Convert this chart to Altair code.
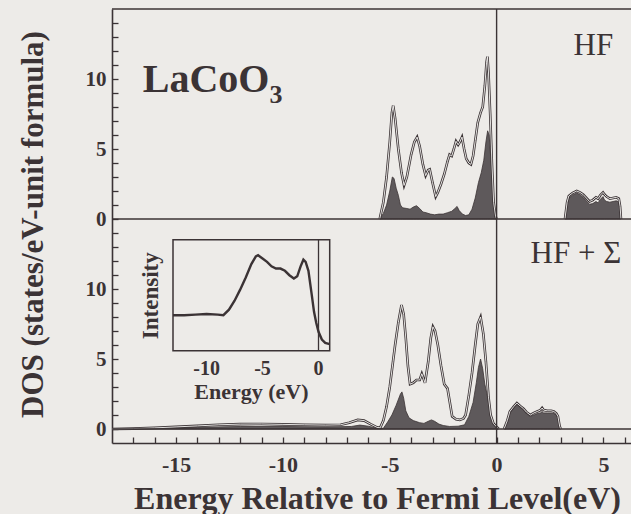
import altair as alt
import pandas as pd

# ---------------- data ----------------
# HF panel, valence band
HF_VAL_TOT_E = [-5.47, -5.3, -5.15, -5.0, -4.9, -4.84, -4.75, -4.6, -4.45, -4.33, -4.2, -4.0, -3.85, -3.72,
                -3.6, -3.45, -3.32, -3.2, -3.13, -3.0, -2.85, -2.75, -2.6, -2.45, -2.3, -2.2, -2.1, -2.0, -1.9,
                -1.8, -1.72, -1.62, -1.52, -1.42, -1.3, -1.2, -1.1, -1.0, -0.88, -0.75, -0.65, -0.55, -0.47,
                -0.43, -0.38, -0.3, -0.22, -0.14, -0.05, 0.0]
HF_VAL_TOT_V = [0.0, 1.2, 3.0, 5.5, 7.6, 8.1, 7.2, 5.0, 3.3, 2.4, 3.0, 4.6, 5.5, 5.85,
                5.2, 3.9, 3.1, 3.5, 3.55, 2.6, 1.6, 1.9, 2.5, 3.2, 4.1, 4.6, 4.5, 5.0, 5.55,
                5.3, 5.5, 5.85, 5.0, 4.3, 4.0, 3.9, 4.5, 5.6, 6.9, 7.6, 8.0, 9.5, 11.2,
                11.6, 10.5, 7.5, 4.0, 1.2, 0.2, 0.0]
HF_VAL_PART_E = [-5.47, -5.3, -5.15, -5.0, -4.88, -4.8, -4.7, -4.6, -4.5, -4.4, -4.2, -4.05, -3.9, -3.75,
                 -3.6, -3.45, -3.3, -3.1, -2.9, -2.7, -2.5, -2.3, -2.1, -1.95, -1.85, -1.75, -1.6, -1.45,
                 -1.3, -1.15, -1.0, -0.85, -0.72, -0.6, -0.5, -0.42, -0.35, -0.28, -0.2, -0.12, -0.05, 0.0]
HF_VAL_PART_V = [0.0, 0.4, 1.0, 2.0, 3.0, 2.9, 2.2, 1.7, 1.0, 0.8, 0.75, 0.7, 0.85, 0.95,
                 0.75, 0.5, 0.45, 0.35, 0.3, 0.35, 0.35, 0.45, 0.55, 0.75, 0.9, 0.6, 0.35, 0.25,
                 0.3, 0.7, 1.5, 2.6, 3.3, 4.2, 5.5, 6.3, 6.0, 4.5, 2.8, 1.0, 0.15, 0.0]
# HF panel, conduction band
HF_CON_E = [3.2, 3.3, 3.38, 3.55, 3.75, 3.9, 4.05, 4.2, 4.35, 4.5, 4.65, 4.75, 4.85, 4.98, 5.05, 5.15,
            5.3, 5.45, 5.6, 5.72, 5.78, 5.82]
HF_CON_TOT_V = [0.0, 1.2, 1.65, 1.85, 2.0, 1.9, 1.75, 1.5, 1.25, 1.35, 1.55, 1.45, 1.7, 1.9, 1.75, 1.6,
                1.45, 1.5, 1.55, 1.45, 0.9, 0.0]
HF_CON_PART_V = [0.0, 1.0, 1.5, 1.7, 1.85, 1.75, 1.55, 1.3, 1.05, 1.1, 1.25, 1.15, 1.4, 1.6, 1.35, 1.25,
                 1.2, 1.25, 1.3, 1.2, 0.7, 0.0]
# HF + Sigma panel, valence band
HFS_VAL_TOT_E = [-18.0, -17.0, -16.0, -15.0, -14.0, -13.0, -12.0, -11.0, -10.0, -9.0, -8.0, -7.3, -6.9,
                 -6.5, -6.2, -5.9, -5.6, -5.45, -5.3, -5.15, -5.0, -4.85, -4.75, -4.6, -4.45, -4.35, -4.25,
                 -4.15, -4.05, -3.9, -3.75, -3.6, -3.5, -3.42, -3.35, -3.2, -3.08, -2.98, -2.88, -2.75,
                 -2.6, -2.45, -2.3, -2.2, -2.08, -1.9, -1.72, -1.55, -1.45, -1.3, -1.15, -1.0, -0.88,
                 -0.75, -0.62, -0.5, -0.38, -0.28, -0.15, 0.0, 0.1]
HFS_VAL_TOT_V = [0.0, 0.03, 0.08, 0.15, 0.22, 0.3, 0.35, 0.36, 0.33, 0.3, 0.28, 0.3, 0.45,
                 0.65, 0.6, 0.35, 0.12, 0.08, 0.6, 1.6, 3.0, 4.8, 6.0, 7.6, 8.85, 8.2, 6.5,
                 4.5, 3.2, 3.3, 3.5, 3.5, 3.95, 3.6, 3.3, 4.8, 6.5, 7.3, 7.0, 6.0,
                 4.5, 3.2, 2.9, 2.0, 0.9, 0.7, 0.65, 0.75, 1.0, 2.4, 4.0, 6.0, 7.5,
                 8.0, 6.8, 4.8, 2.3, 1.0, 0.4, 0.15, 0.0]
HFS_VAL_PART_E = [-18.0, -16.0, -14.0, -12.0, -10.0, -8.0, -6.8, -6.4, -6.0, -5.6, -5.3, -5.1, -4.9,
                  -4.7, -4.5, -4.43, -4.35, -4.25, -4.1, -3.9, -3.6, -3.4, -3.2, -3.05, -2.9, -2.7, -2.5,
                  -2.2, -1.8, -1.5, -1.3, -1.1, -0.95, -0.85, -0.75, -0.65, -0.55, -0.45, -0.35, -0.25,
                  -0.1, 0.0, 0.05]
HFS_VAL_PART_V = [0.0, 0.05, 0.12, 0.18, 0.18, 0.15, 0.18, 0.28, 0.2, 0.05, 0.05, 0.5, 1.0,
                  1.7, 2.5, 2.65, 2.2, 1.3, 0.8, 0.6, 0.45, 0.4, 0.55, 0.65, 0.55, 0.35, 0.25,
                  0.18, 0.2, 0.3, 0.9, 1.9, 3.3, 4.4, 5.0, 4.3, 3.2, 2.5, 1.6, 0.9,
                  0.3, 0.1, 0.0]
# HF + Sigma panel, conduction band
HFS_CON_E = [0.35, 0.5, 0.62, 0.8, 0.95, 1.1, 1.26, 1.4, 1.58, 1.75, 1.9, 2.05, 2.13, 2.2, 2.37, 2.55,
             2.68, 2.8, 2.87, 2.95, 3.0]
HFS_CON_TOT_V = [0.0, 0.6, 1.25, 1.6, 1.85, 1.65, 1.45, 1.2, 1.0, 1.15, 1.25, 1.35, 1.5, 1.35, 1.3, 1.3,
                 1.25, 1.1, 0.9, 0.2, 0.0]
HFS_CON_PART_V = [0.0, 0.55, 1.15, 1.55, 1.8, 1.6, 1.35, 1.1, 0.9, 1.0, 1.1, 1.15, 1.25, 1.15, 1.15, 1.15,
                  1.1, 1.0, 0.8, 0.15, 0.0]
# Inset: photoemission intensity (arbitrary units, 0 = bottom of inset, 1 = top)
INSET_E = [-13.0, -12.0, -11.0, -10.0, -9.0, -8.5, -8.0, -7.5, -7.0, -6.5, -6.0, -5.6, -5.4, -5.0, -4.6,
           -4.2, -3.8, -3.4, -3.0, -2.6, -2.2, -1.9, -1.6, -1.35, -1.15, -0.9, -0.6, -0.4, -0.2, 0.0,
           0.3, 0.6, 1.0]
INSET_I = [0.32, 0.32, 0.325, 0.33, 0.325, 0.32, 0.37, 0.45, 0.55, 0.66, 0.78, 0.85, 0.86, 0.83, 0.8,
           0.76, 0.74, 0.74, 0.72, 0.68, 0.65, 0.67, 0.76, 0.82, 0.8, 0.72, 0.5, 0.35, 0.25, 0.17,
           0.1, 0.07, 0.06]

# axis / tick definitions
X_DOMAIN = [-18, 6.29]
X_TICKS = [-17, -16, -15, -14, -13, -12, -11, -10, -9, -8, -7, -6, -5, -4, -3, -2, -1, 0, 1, 2, 3, 4, 5, 6]
TOP_OFFSET = 15            # top panel's zero sits at the lower panel's 15
Y_DOMAIN = [-1, 30]
Y_TICKS = list(range(0, 30))
INSET_X_DOMAIN = [-13, 1]
INSET_Y_DOMAIN = [0, 1]
INSET_MAJOR = [-10, -5, 0]
INSET_LABELS = ["-10", "-5", "0"]

# ---------------- styles ----------------
BG = "#edebe8"
INK = "#3b3335"
FILL = "#5e595b"
SERIF = "Liberation Serif"
W, H = 519, 434
TICK = 6   # inward tick length in pixels

def part(e, v, panel, band, kind):
    return pd.DataFrame({"e": e, "v": v, "panel": panel, "kind": kind,
                         "sid": f"{panel}-{band}-{kind}"})

dos = pd.concat([
    part(HF_VAL_TOT_E, HF_VAL_TOT_V, "HF", "val", "total"),
    part(HF_VAL_PART_E, HF_VAL_PART_V, "HF", "val", "partial"),
    part(HF_CON_E, HF_CON_TOT_V, "HF", "con", "total"),
    part(HF_CON_E, HF_CON_PART_V, "HF", "con", "partial"),
    part(HFS_VAL_TOT_E, HFS_VAL_TOT_V, "HFS", "val", "total"),
    part(HFS_VAL_PART_E, HFS_VAL_PART_V, "HFS", "val", "partial"),
    part(HFS_CON_E, HFS_CON_TOT_V, "HFS", "con", "total"),
    part(HFS_CON_E, HFS_CON_PART_V, "HFS", "con", "partial"),
], ignore_index=True)

XS = alt.Scale(domain=X_DOMAIN, nice=False, zero=False)
YS = alt.Scale(domain=Y_DOMAIN, nice=False, zero=False)
XAXIS = alt.Axis(values=X_TICKS, ticks=True, tickSize=alt.ExprRef(expr=f"-{TICK}"), tickColor=INK,
                 tickWidth=1.3, grid=False, domainColor=INK, domainWidth=1.6,
                 labelExpr="datum.value % 5 == 0 ? '' + datum.value : ''",
                 labelFont=SERIF, labelFontWeight="bold",
                 labelFontSize=22, labelColor=INK, labelPadding=11 + TICK, labelFlush=False,
                 labelOverlap=False,
                 title="Energy Relative to Fermi Level(eV)", titleFont=SERIF, titleFontWeight="bold",
                 titleFontSize=32, titleColor=INK, titleX=265, titleY=65, titleAlign="center",
                 titleBaseline="alphabetic")
YAXIS = alt.Axis(values=Y_TICKS, ticks=True, tickSize=alt.ExprRef(expr=f"-{TICK}"), tickColor=INK,
                 tickWidth=1.3, grid=False, domainColor=INK, domainWidth=1.6,
                 labelExpr=f"datum.value % 5 == 0 ? '' + (datum.value >= {TOP_OFFSET} ? datum.value - {TOP_OFFSET} : datum.value) : ''",
                 labelFont=SERIF, labelFontWeight="bold", labelFontSize=21, labelColor=INK,
                 labelPadding=6 + TICK, labelFlush=False, labelOverlap=False,
                 title="DOS (states/eV-unit formula)", titleFont=SERIF, titleFontWeight="bold",
                 titleFontSize=31, titleColor=INK, titleX=-79, titleY=215, titleAngle=270,
                 titleAlign="center", titleBaseline="middle")

def X(field=None, datum=None):
    if datum is not None:
        return alt.X(datum=datum, scale=XS, axis=XAXIS)
    return alt.X(field, type="quantitative", scale=XS, axis=XAXIS)

def Y(field=None, datum=None):
    if datum is not None:
        return alt.Y(datum=datum, scale=YS, axis=YAXIS)
    return alt.Y(field, type="quantitative", scale=YS, axis=YAXIS)

base = alt.Chart(dos).transform_calculate(
    yv=f"datum.v + (datum.panel == 'HF' ? {TOP_OFFSET} : 0)",
    y0=f"datum.panel == 'HF' ? {TOP_OFFSET} : 0",
)
areas = base.transform_filter("datum.kind == 'partial'").mark_area(
    fill=FILL, stroke=INK, strokeWidth=0.8).encode(
    x=X("e"), y=Y("yv"), y2=alt.Y2("y0:Q"), detail="sid:N")
tot_dark = base.transform_filter("datum.kind == 'total'").mark_line(
    color=INK, strokeWidth=2.6).encode(x=X("e"), y=Y("yv"), detail="sid:N")
tot_light = base.transform_filter("datum.kind == 'total'").mark_line(
    color="#f6f5f3", strokeWidth=0.9).encode(x=X("e"), y=Y("yv"), detail="sid:N")

one = pd.DataFrame({"k": [0]})
zeros = alt.Chart(pd.DataFrame({"z": [0, TOP_OFFSET, Y_DOMAIN[1]]})).mark_rule(
    color=INK, strokeWidth=1.6).encode(y=Y("z"))
fermi = alt.Chart(one).mark_rule(color=INK, strokeWidth=1.4).encode(x=X(datum=0))

def label(text, x, y, size, weight="bold"):
    return alt.Chart(one).mark_text(font=SERIF, fontSize=size, fontWeight=weight, color=INK,
                                    align="left", baseline="alphabetic").encode(
        x=X(datum=x), y=Y(datum=y), text=alt.value(text))

texts = [
    label("LaCoO", -16.56, 24.04, 40),
    label("3", -10.63, 23.31, 26),
    label("HF", 3.6, 26.74, 31, "normal"),
    label("HF + Σ", 1.59, 11.88, 31, "normal"),
]

main = alt.layer(areas, tot_dark, tot_light, zeros, fermi, *texts)

# ---------------- inset ----------------
I_LEFT, I_RIGHT, I_TOP, I_BOTTOM = 61, 217.7, 230.7, 341.7
IX = alt.Scale(domain=INSET_X_DOMAIN, range=[I_LEFT, I_RIGHT], nice=False, zero=False)
IY = alt.Scale(domain=INSET_Y_DOMAIN, range=[I_BOTTOM, I_TOP], nice=False, zero=False)

def IXe(field=None, datum=None):
    if datum is not None:
        return alt.X(datum=datum, scale=IX, axis=None)
    return alt.X(field, type="quantitative", scale=IX, axis=None)

def IYe(field=None, datum=None):
    if datum is not None:
        return alt.Y(datum=datum, scale=IY, axis=None)
    return alt.Y(field, type="quantitative", scale=IY, axis=None)

inset_df = pd.DataFrame({"e": INSET_E, "i": INSET_I})
inset_curve = alt.Chart(inset_df).mark_line(color=INK, strokeWidth=2.4).encode(x=IXe("e"), y=IYe("i"))
inset_frame = alt.Chart(one).mark_rect(fillOpacity=0, stroke=INK, strokeWidth=1.5).encode(
    x=IXe(datum=INSET_X_DOMAIN[0]), x2=alt.X2(datum=INSET_X_DOMAIN[1]),
    y=IYe(datum=INSET_Y_DOMAIN[0]), y2=alt.Y2(datum=INSET_Y_DOMAIN[1]))
inset_zero = alt.Chart(one).mark_rule(color=INK, strokeWidth=1.3).encode(
    x=IXe(datum=0), y=IYe(datum=INSET_Y_DOMAIN[0]), y2=alt.Y2(datum=INSET_Y_DOMAIN[1]))
inset_labels = alt.Chart(pd.DataFrame({"t": INSET_MAJOR, "s": INSET_LABELS})).mark_text(
    font=SERIF, fontSize=20, fontWeight="bold", color=INK, align="center", baseline="alphabetic").encode(
    x=IXe("t"), y=alt.value(366), text="s:N")
inset_xtitle = alt.Chart(one).mark_text(
    font=SERIF, fontSize=22, fontWeight="bold", color=INK, align="center", baseline="alphabetic").encode(
    x=IXe(datum=-6.0), y=alt.value(390), text=alt.value("Energy (eV)"))
inset_ytitle = alt.Chart(one).mark_text(
    font=SERIF, fontSize=23, fontWeight="bold", color=INK, align="center", baseline="middle",
    angle=270).encode(x=IXe(datum=-15.0), y=IYe(datum=0.495), text=alt.value("Intensity"))

inset = alt.layer(inset_curve, inset_frame, inset_zero, inset_labels, inset_xtitle, inset_ytitle)

chart = alt.layer(main, inset).resolve_scale(x="independent", y="independent").properties(
    width=W, height=H,
    autosize=alt.AutoSizeParams(type="none"),
    padding={"left": 112, "top": 9, "right": 0, "bottom": 71},
    background=BG,
).configure_view(stroke=None, fill=BG)

chart.save("out.html", embed_options={"renderer": "svg", "actions": False})
